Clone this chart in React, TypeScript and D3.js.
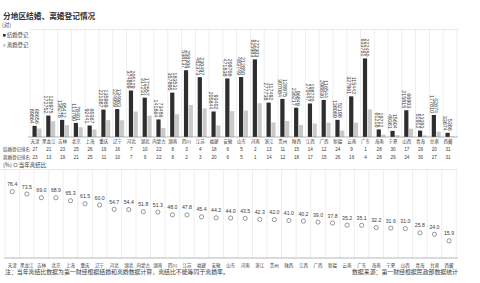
import React from 'react';
import * as d3 from 'd3';

const provinces = ['天津','黑龙江','吉林','北京','上海','重庆','辽宁','河北','湖北','内蒙古','湖南','四川','江苏','福建','安徽','山东','河南','浙江','贵州','陕西','江西','广西','新疆','云南','广东','海南','宁夏','山西','青海','甘肃','西藏'];
const marriages = [89864,172752,138278,113790,92441,221087,224959,374809,317231,141864,357895,538137,482373,205844,471838,483749,625983,277738,307084,236217,270447,298830,138089,327961,633761,61218,49381,215815,51912,177810,33874];
const divorces = [68656,126975,95412,78401,60367,135969,134963,205129,172557,73486,183531,258306,230497,93402,208706,212850,272303,117492,128975,96849,108720,116544,52198,115442,222450,19712,15604,66903,13393,42674,5386];
const ratios = [76.4,73.5,69.0,68.9,65.3,61.5,60.0,54.7,54.4,51.8,51.3,48.0,47.8,45.4,44.2,44.0,43.5,42.3,42.0,41.0,40.2,39.0,37.8,35.2,35.1,32.2,31.6,31.0,25.8,24.0,15.9];
const marriageRanks = [27,21,23,25,26,19,16,7,10,22,8,3,4,18,6,5,2,13,11,15,14,12,24,9,1,28,30,17,29,20,31];
const divorceRanks = [23,13,19,21,25,11,10,7,9,22,8,2,3,20,6,5,1,14,12,18,17,15,26,16,4,28,29,24,30,27,31];

const CJK = '"Noto Sans CJK SC", "Noto Sans", sans-serif';
const NUM = '"Liberation Sans", Arial, sans-serif';

export default function App() {
  const xTop = d3.scaleBand<string>().domain(provinces).range([30.1, 456.9]);
  const yTop = d3.scaleLinear().domain([0, 650000]).range([137, 56.4]);
  const xBot = d3.scaleBand<string>().domain(provinces).range([5, 456.3]);
  const yBot = d3.scaleLinear().domain([0, 100]).range([253.8, 172.5]);
  const bwTop = xTop.bandwidth();
  const bwBot = xBot.bandwidth();
  const grid = '#dcdcdc';
  const dark = '#2e2e2e';
  const light = '#c9c9c9';
  const txt = '#3a3a3a';

  return (
    <svg width={480} height={283} style={{ position: 'absolute', left: 0, top: 0, background: '#fff' }}>
      <rect width={480} height={283} fill="#fff" />
      {/* Title & legend */}
      <text x={3} y={18.8} fontFamily={CJK} fontSize={7.7} fontWeight="bold" fill="#333">分地区结婚、离婚登记情况</text>
      <text x={2} y={27.3} fontFamily={CJK} fontSize={5.5} fill={txt}>(对)</text>
      <rect x={3} y={34} width={2.6} height={2.6} fill={dark} />
      <text x={7} y={37.3} fontFamily={CJK} fontSize={5.3} fill={txt}>结婚登记</text>
      <rect x={3} y={44} width={2.6} height={2.6} fill={light} />
      <text x={7} y={47.3} fontFamily={CJK} fontSize={5.3} fill={txt}>离婚登记</text>

      {/* Upper chart grid */}
      <line x1={30} x2={458} y1={29.5} y2={29.5} stroke={grid} strokeWidth={0.6} />
      {provinces.map((p, i) => (
        <line key={'vg' + i} x1={xTop(p)!} x2={xTop(p)!} y1={29.5} y2={137} stroke={grid} strokeWidth={0.5} />
      ))}
      <line x1={xTop.range()[1]} x2={xTop.range()[1]} y1={29.5} y2={137} stroke={grid} strokeWidth={0.5} />

      {/* Bars */}
      {provinces.map((p, i) => {
        const c = xTop(p)! + bwTop / 2;
        return (
          <g key={'b' + i}>
            <rect x={c - 4.5} y={yTop(marriages[i])} width={4.2} height={yTop(0) - yTop(marriages[i])} fill={dark} />
            <rect x={c + 0.3} y={yTop(divorces[i])} width={4.2} height={yTop(0) - yTop(divorces[i])} fill={light} />
            <text transform={`translate(${c - 6.6},${yTop(marriages[i]) - 2}) rotate(90)`} textAnchor="end" fontFamily={NUM} fontSize={5.4} fill={txt}>{marriages[i]}</text>
            <text transform={`translate(${c - 2.1},${yTop(marriages[i]) - 2}) rotate(90)`} textAnchor="end" fontFamily={NUM} fontSize={5.4} fill={txt}>{divorces[i]}</text>
          </g>
        );
      })}
      <line x1={28} x2={458} y1={137} y2={137} stroke="#888" strokeWidth={0.6} />

      {/* Category labels & ranks */}
      {provinces.map((p, i) => {
        const c = xTop(p)! + bwTop / 2 - 2;
        return (
          <g key={'r' + i}>
            <text x={c} y={143.3} textAnchor="middle" fontFamily={CJK} fontSize={4.5} fill={txt}>{p}</text>
            <text x={c} y={150.7} textAnchor="middle" fontFamily={NUM} fontSize={4.6} fill={txt}>{marriageRanks[i]}</text>
            <text x={c} y={158.6} textAnchor="middle" fontFamily={NUM} fontSize={4.6} fill={txt}>{divorceRanks[i]}</text>
          </g>
        );
      })}
      <text x={3} y={150.7} fontFamily={CJK} fontSize={4.5} fill={txt}>结婚登记排名</text>
      <text x={3} y={158.6} fontFamily={CJK} fontSize={4.5} fill={txt}>离婚登记排名</text>

      {/* Lower chart */}
      <text x={3} y={166.9} fontFamily={CJK} fontSize={5.5} fill={txt}>(%)</text>
      <circle cx={15.5} cy={165} r={1.8} fill="none" stroke="#555" strokeWidth={0.6} />
      <text x={18.8} y={166.9} fontFamily={CJK} fontSize={5.5} fill={txt}>当年离结比</text>
      <line x1={0} x2={458} y1={169.5} y2={169.5} stroke={grid} strokeWidth={0.6} />
      {provinces.map((p, i) => (
        <line key={'lg' + i} x1={xBot(p)!} x2={xBot(p)!} y1={169.5} y2={258} stroke={grid} strokeWidth={0.5} />
      ))}
      <line x1={xBot.range()[1]} x2={xBot.range()[1]} y1={169.5} y2={258} stroke={grid} strokeWidth={0.5} />
      {provinces.map((p, i) => {
        const c = xBot(p)! + bwBot / 2;
        const y = yBot(ratios[i]);
        return (
          <g key={'d' + i}>
            <circle cx={c} cy={y} r={2.1} fill="#fff" stroke="#555" strokeWidth={0.6} />
            <text x={c} y={y - 5.5} textAnchor="middle" fontFamily={NUM} fontSize={5.2} fill={txt}>{ratios[i].toFixed(1)}</text>
          </g>
        );
      })}
      <line x1={4} x2={458} y1={258} y2={258} stroke="#888" strokeWidth={0.6} />
      {provinces.map((p, i) => (
        <text key={'bl' + i} x={xBot(p)! + bwBot / 2} y={266.6} textAnchor="middle" fontFamily={CJK} fontSize={4.5} fill={txt}>{p}</text>
      ))}
      <text x={5} y={274} fontFamily={CJK} fontSize={5.9} fill={txt}>注：当年离结比数据为第一财经根据结婚和离婚数据计算，离结比不能等同于离婚率。</text>
      <text x={458} y={274} textAnchor="end" fontFamily={CJK} fontSize={5.9} fill={txt}>数据来源：第一财经根据民政部数据统计</text>
    </svg>
  );
}
